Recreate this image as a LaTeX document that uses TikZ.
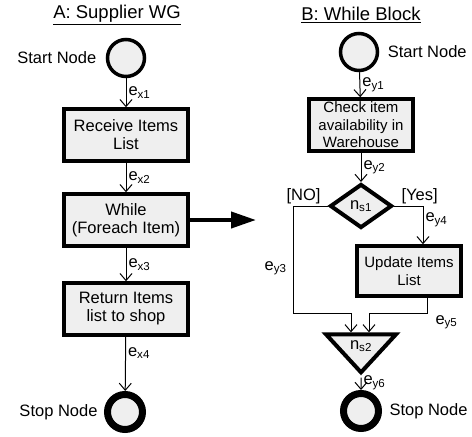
\documentclass[tikz,border=0pt]{standalone}
\usepackage{fontspec}
\setmainfont{Liberation Sans}
\usepackage{tikz}
\usetikzlibrary{positioning,arrows.meta,shapes.geometric}
\definecolor{boxgray}{HTML}{EFEFEF}

\begin{document}
\begin{tikzpicture}[x=1pt, y=-1pt,
      font=\fontsize{16.5}{18}\selectfont,
      task/.style={draw, line width=3.5pt, fill=boxgray, align=center,
                   minimum width=124pt, minimum height=52pt, inner sep=2pt},
      smalltask/.style={task, minimum width=104pt, minimum height=50pt,
                        font=\fontsize{15}{17.5}\selectfont},
      startnode/.style={circle, draw, line width=3.5pt, fill=boxgray, minimum size=37pt},
      stopnode/.style={circle, draw, line width=7pt, fill=boxgray, minimum size=35pt},
      decision/.style={diamond, draw, line width=4pt, fill=boxgray, inner sep=0pt,
                       minimum width=62pt, minimum height=44pt},
      merge/.style={isosceles triangle, isosceles triangle stretches, shape border rotate=270,
                    draw, line width=4pt, fill=boxgray, inner sep=0pt,
                    minimum width=70pt, minimum height=35pt},
      flow/.style={-{Straight Barb[length=7pt,width=12pt]}, line width=1pt},
      bigflow/.style={-{Triangle[length=25pt,width=16pt]}, line width=4pt},
      edgelbl/.style={inner sep=2pt}]
    \useasboundingbox (0,0) rectangle (472,437);

    % A: supplier workflow
    \node (ta) at (117,15) {\fontsize{18.5}{20}\selectfont\underline{A: Supplier WG}};
    \node[startnode, label={[label distance=6pt]left:Start Node}] (sa) at (126,58) {};
    \node[task] (recv) at (126,135) {Receive Items\\List};
    \node[task] (wh) at (126,220) {While\\(Foreach Item)};
    \node[task] (ret) at (126,309) {Return Items\\list to shop};
    \node[stopnode, label={[label distance=3pt]left:Stop Node}] (ea) at (125,412) {};
    \draw[flow] (sa) -- node[right, edgelbl] {e\textsubscript{x1}} (recv);
    \draw[flow] (recv) -- node[right, edgelbl] {e\textsubscript{x2}} (wh);
    \draw[flow] (wh) -- node[right, edgelbl] {e\textsubscript{x3}} (ret);
    \draw[flow] (ret) -- node[right, edgelbl, pos=0.3] {e\textsubscript{x4}} (ea);

    \coordinate (bigtip) at (256,220);
    \draw[bigflow] (wh.east) -- (bigtip);

    % B: the while block
    \node (tb) at (361,15) {\fontsize{18.5}{20}\selectfont\underline{B: While Block}};
    \node[startnode, label={[label distance=5pt]right:Start Node}] (sb) at (359,52) {};
    \node[smalltask, minimum height=52pt] (chk) at (361,125) {Check item\\availability in\\Warehouse};
    \node[decision] (ns1) at (361,206) {n\textsubscript{s1}};
    \node[smalltask] (upd) at (409,271) {Update Items\\List};
    \node[merge] (ns2) at (361,346) {n\textsubscript{s2}};
    \node[stopnode, label={[label distance=4pt]right:Stop Node}] (eb) at (361,411) {};

    \coordinate (noknee) at (293,313);
    \coordinate (yesknee) at (427,313);

    \draw[flow] (sb) -- node[right, edgelbl] {e\textsubscript{y1}} (chk);
    \draw[flow] (chk) -- node[right, edgelbl] {e\textsubscript{y2}} (ns1);
    \draw[flow] (ns1.west) node[above left, inner sep=1pt, xshift=-6pt, yshift=1pt] {[NO]}
        -| node[pos=0.79, left, edgelbl, xshift=-4pt] {e\textsubscript{y3}} (noknee)
        -| ([xshift=-10pt]ns2.north);
    \draw[flow] (ns1.east) node[above right, inner sep=1pt, xshift=6pt, yshift=1pt] {[Yes]}
        -| node[pos=0.68, right, edgelbl] {e\textsubscript{y4}} ([xshift=14pt]upd.north);
    \draw[flow] ([xshift=18pt]upd.south) -- (yesknee)
        node[below right, edgelbl, xshift=6pt] {e\textsubscript{y5}}
        -| ([xshift=8pt]ns2.north);
    \draw[flow] (ns2.south) -- node[right, edgelbl, pos=0.4] {e\textsubscript{y6}} (eb);
  \end{tikzpicture}
\end{document}
